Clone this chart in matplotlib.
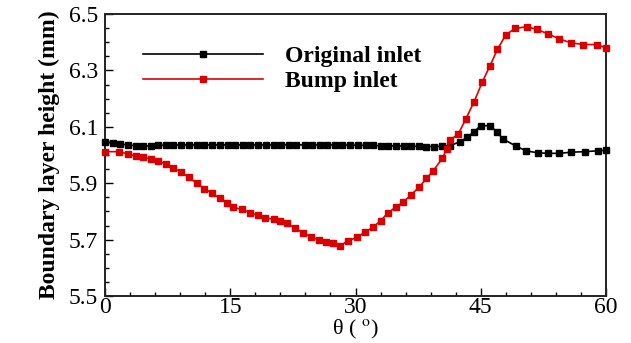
import matplotlib
matplotlib.use("Agg")
import matplotlib.pyplot as plt
from matplotlib.ticker import MultipleLocator

# theta (deg) and boundary layer height (mm)
theta_orig = [0, 0.9, 1.8, 2.7, 3.7, 4.6, 5.5, 6.4, 7.3, 8.2, 9.1, 10.0, 11.0, 11.9,
              12.8, 13.8, 14.7, 15.6, 16.5, 17.4, 18.3, 19.3, 20.2, 21.1, 22.0, 22.9,
              23.9, 24.8, 25.7, 26.6, 27.5, 28.4, 29.4, 30.3, 31.2, 32.1, 33.0, 33.9,
              34.9, 35.8, 36.7, 37.6, 38.5, 39.4, 40.4, 41.3, 42.5, 43.4, 44.2, 45.0,
              46.1, 46.9, 47.7, 49.2, 50.4, 51.8, 53.1, 54.4, 55.8, 57.5, 59.0, 60.0]
h_orig = [6.047, 6.041, 6.039, 6.036, 6.033, 6.032, 6.032, 6.034, 6.035, 6.035, 6.036,
          6.036, 6.036, 6.036, 6.036, 6.036, 6.036, 6.036, 6.036, 6.036, 6.036, 6.036,
          6.036, 6.036, 6.036, 6.036, 6.036, 6.036, 6.036, 6.036, 6.036, 6.036, 6.035,
          6.035, 6.034, 6.034, 6.033, 6.033, 6.032, 6.032, 6.031, 6.031, 6.030, 6.030,
          6.031, 6.033, 6.047, 6.063, 6.083, 6.104, 6.104, 6.083, 6.056, 6.032, 6.015,
          6.008, 6.006, 6.006, 6.010, 6.012, 6.015, 6.017]

theta_bump = [0, 1.7, 2.7, 3.7, 4.6, 5.5, 6.4, 7.3, 8.1, 9.1, 10.0, 11.0, 11.9, 12.8,
              13.8, 14.6, 15.3, 16.4, 17.4, 18.3, 19.2, 20.2, 21.0, 21.8, 22.8, 23.7,
              24.7, 25.6, 26.5, 27.3, 28.1, 29.1, 30.2, 31.1, 32.1, 33.0, 33.9, 34.8,
              35.7, 36.6, 37.6, 38.5, 39.3, 40.4, 40.9, 41.3, 42.3, 43.2, 44.2, 45.2,
              46.1, 47.0, 48.0, 49.1, 50.5, 51.7, 53.1, 54.4, 55.8, 57.3, 58.9, 60.0]
h_bump = [6.012, 6.012, 6.004, 5.996, 5.992, 5.986, 5.978, 5.968, 5.955, 5.940, 5.921,
          5.900, 5.881, 5.864, 5.846, 5.831, 5.815, 5.807, 5.795, 5.786, 5.777, 5.772,
          5.767, 5.758, 5.740, 5.724, 5.710, 5.699, 5.691, 5.689, 5.677, 5.696, 5.708,
          5.726, 5.744, 5.767, 5.795, 5.815, 5.832, 5.858, 5.885, 5.917, 5.944, 5.988,
          6.020, 6.053, 6.074, 6.127, 6.189, 6.260, 6.316, 6.375, 6.426, 6.449, 6.455,
          6.446, 6.429, 6.412, 6.398, 6.392, 6.392, 6.380]

x_ticks = [0, 15, 30, 45, 60]
y_ticks = [5.5, 5.7, 5.9, 6.1, 6.3, 6.5]

plt.rcParams['font.family'] = ['Liberation Serif', 'DejaVu Serif']
plt.rcParams['mathtext.fontset'] = 'stix'

fig = plt.figure(figsize=(6.31, 3.43), dpi=100)
ax = fig.add_axes([0.1664, 0.137, 0.794, 0.822])

ax.plot(theta_orig, h_orig, color='black', lw=1.2, marker='s', ms=5,
        label='Original inlet', clip_on=False, zorder=3)
ax.plot(theta_bump, h_bump, color='#e00000', lw=1.2, marker='s', ms=5,
        mfc='#d80000', mec='#d80000', label='Bump inlet', clip_on=False, zorder=3)

ax.set_xlim(0, 60)
ax.set_ylim(5.5, 6.5)
ax.set_xticks(x_ticks)
ax.set_yticks(y_ticks)
ax.set_yticklabels([f'{v:.1f}' for v in y_ticks])
ax.xaxis.set_minor_locator(MultipleLocator(3))
ax.yaxis.set_minor_locator(MultipleLocator(0.05))
ax.tick_params(which='both', direction='in', top=False, right=False,
               labelsize=17, width=1.0)
ax.tick_params(which='major', length=6)
ax.tick_params(which='minor', length=3)
ax.tick_params(axis='x', which='major', pad=1)
ax.tick_params(axis='y', which='major', pad=5)
for s in ax.spines.values():
    s.set_linewidth(1.4)
    s.set_color('#222222')

ax.set_xlabel(r'θ ( $^{\rm o}$)', fontsize=16, labelpad=0)
ax.set_ylabel('Boundary layer height (mm)', fontsize=17, fontweight='bold', labelpad=6)

ax.legend(loc='upper left', bbox_to_anchor=(0.076, 0.888), frameon=False,
          borderpad=0, borderaxespad=0, handlelength=5.1, handletextpad=0.93,
          labelspacing=0.15, prop={'size': 17, 'weight': 'bold'})

fig.savefig('out.png', dpi=100)
